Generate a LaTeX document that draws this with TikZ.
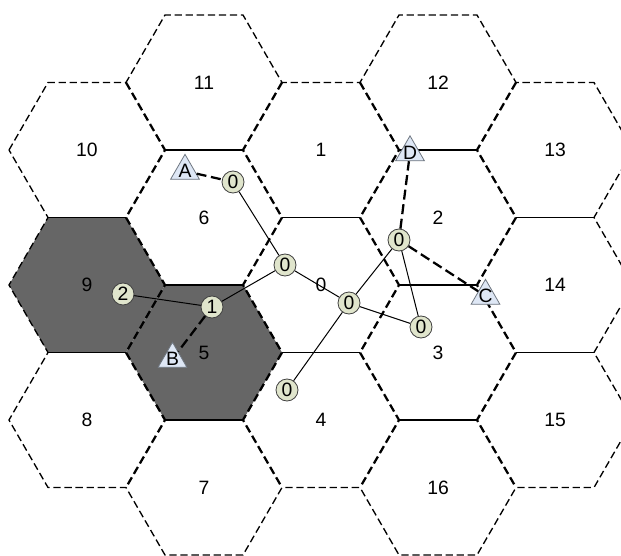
\documentclass[tikz,border=0pt]{standalone}
\usepackage{fontspec}
\setmainfont{Liberation Sans}
\usetikzlibrary{shapes.geometric}

\definecolor{cellgray}{RGB}{102,102,102}
\definecolor{hopfill}{RGB}{224,229,204}
\definecolor{termfill}{RGB}{222,231,245}
\definecolor{termline}{RGB}{110,118,128}

\begin{document}
\begin{tikzpicture}[x=0.75pt,y=0.75pt,yscale=-1,xscale=1,
    bnd/.style={line width=1pt,dash pattern=on 5.5pt off 2.8pt},
    midedge/.style={line width=1.7pt,dash pattern=on 6pt off 3pt},
    hedge/.style={line width=1.3pt},
    celltxt/.style={font=\fontsize{14.5}{16}\selectfont},
    hop/.style={circle,draw=black!75,fill=hopfill,line width=0.6pt,minimum size=16.5pt,inner sep=0pt,font=\fontsize{14.5}{16}\selectfont},
    term/.style={regular polygon,regular polygon sides=3,draw=termline,fill=termfill,line width=0.6pt,minimum size=25pt,inner sep=-1pt,font=\fontsize{14.5}{16}\selectfont},
    link/.style={line width=0.75pt},
    radio/.style={line width=1.7pt,dash pattern=on 7.5pt off 3.5pt}]
            \clip (0,0) rectangle (621,556);
            % shaded cells 9 and 5
            \fill [cellgray] (165,285) -- (126,217.5) -- (48,217.5) -- (9,285) -- (48,352.5) -- (126,352.5) -- cycle ;
            \fill [cellgray] (282,352.5) -- (243,285) -- (165,285) -- (126,352.5) -- (165,420) -- (243,420) -- cycle ;
            % outer border of the grid
            \draw [bnd] (9,150) -- (48,82.5) -- (126,82.5) -- (165,15) -- (243,15) -- (282,82.5) -- (360,82.5) -- (399,15) -- (477,15) -- (516,82.5) -- (594,82.5) -- (633,150) -- (594,217.5) -- (633,285) -- (594,352.5) -- (633,420) -- (594,487.5) -- (516,487.5) -- (477,555) -- (399,555) -- (360,487.5) -- (282,487.5) -- (243,555) -- (165,555) -- (126,487.5) -- (48,487.5) -- (9,420) -- (48,352.5) -- (9,285) -- (48,217.5) -- cycle ;
            % slanted inner edges
            \draw [midedge] (126,82.5) -- (165,150) -- (126,217.5) -- (165,285) -- (126,352.5) -- (165,420) -- (126,487.5) ;
            \draw [midedge] (282,82.5) -- (243,150) -- (282,217.5) -- (243,285) -- (282,352.5) -- (243,420) -- (282,487.5) ;
            \draw [midedge] (360,82.5) -- (399,150) -- (360,217.5) -- (399,285) -- (360,352.5) -- (399,420) -- (360,487.5) ;
            \draw [midedge] (516,82.5) -- (477,150) -- (516,217.5) -- (477,285) -- (516,352.5) -- (477,420) -- (516,487.5) ;
            % horizontal inner edges
            \draw [hedge] (48,217.5) -- (126,217.5) (48,352.5) -- (126,352.5) (282,217.5) -- (360,217.5) (282,352.5) -- (360,352.5) (516,217.5) -- (594,217.5) (516,352.5) -- (594,352.5) ;
            \draw [hedge] (165,150) -- (243,150) (165,285) -- (243,285) (165,420) -- (243,420) (399,150) -- (477,150) (399,285) -- (477,285) (399,420) -- (477,420) ;
            % cell numbers
            \node [celltxt] (c0) at (321,285) {0};
            \node [celltxt] (c1) at (321,150) {1};
            \node [celltxt] (c2) at (438,217.5) {2};
            \node [celltxt] (c3) at (438,352.5) {3};
            \node [celltxt] (c4) at (321,420) {4};
            \node [celltxt] (c5) at (204,352.5) {5};
            \node [celltxt] (c6) at (204,217.5) {6};
            \node [celltxt] (c7) at (204,487.5) {7};
            \node [celltxt] (c8) at (87,420) {8};
            \node [celltxt] (c9) at (87,285) {9};
            \node [celltxt] (c10) at (87,150) {10};
            \node [celltxt] (c11) at (204,82.5) {11};
            \node [celltxt] (c12) at (438,82.5) {12};
            \node [celltxt] (c13) at (555,150) {13};
            \node [celltxt] (c14) at (555,285) {14};
            \node [celltxt] (c15) at (555,420) {15};
            \node [celltxt] (c16) at (438,487.5) {16};
            % relay nodes and terminals
            \node [hop] (m1) at (233,182) {0};
            \node [hop] (m2) at (285,265) {0};
            \node [hop] (m3) at (212,307) {1};
            \node [hop] (m4) at (123,294) {2};
            \node [hop] (m5) at (349,303) {0};
            \node [hop] (m6) at (421,327) {0};
            \node [hop] (m7) at (399,240) {0};
            \node [hop] (m8) at (287,390) {0};
            \node [term] (tA) at (185,171) {A};
            \node [term] (tB) at (172.5,359) {B};
            \node [term] (tC) at (485.5,296) {C};
            \node [term] (tD) at (410,152.5) {D};
            % links
            \draw [link] (m1) -- (m2) (m2) -- (m3) (m3) -- (m4) (m2) -- (m5) (m5) -- (m6) (m5) -- (m7) (m5) -- (m8) (m7) -- (m6) ;
            \draw [radio] (tA) -- (m1) (m3) -- (tB) (m7) -- (tD) (m7) -- (tC) ;
        \end{tikzpicture}
\end{document}
